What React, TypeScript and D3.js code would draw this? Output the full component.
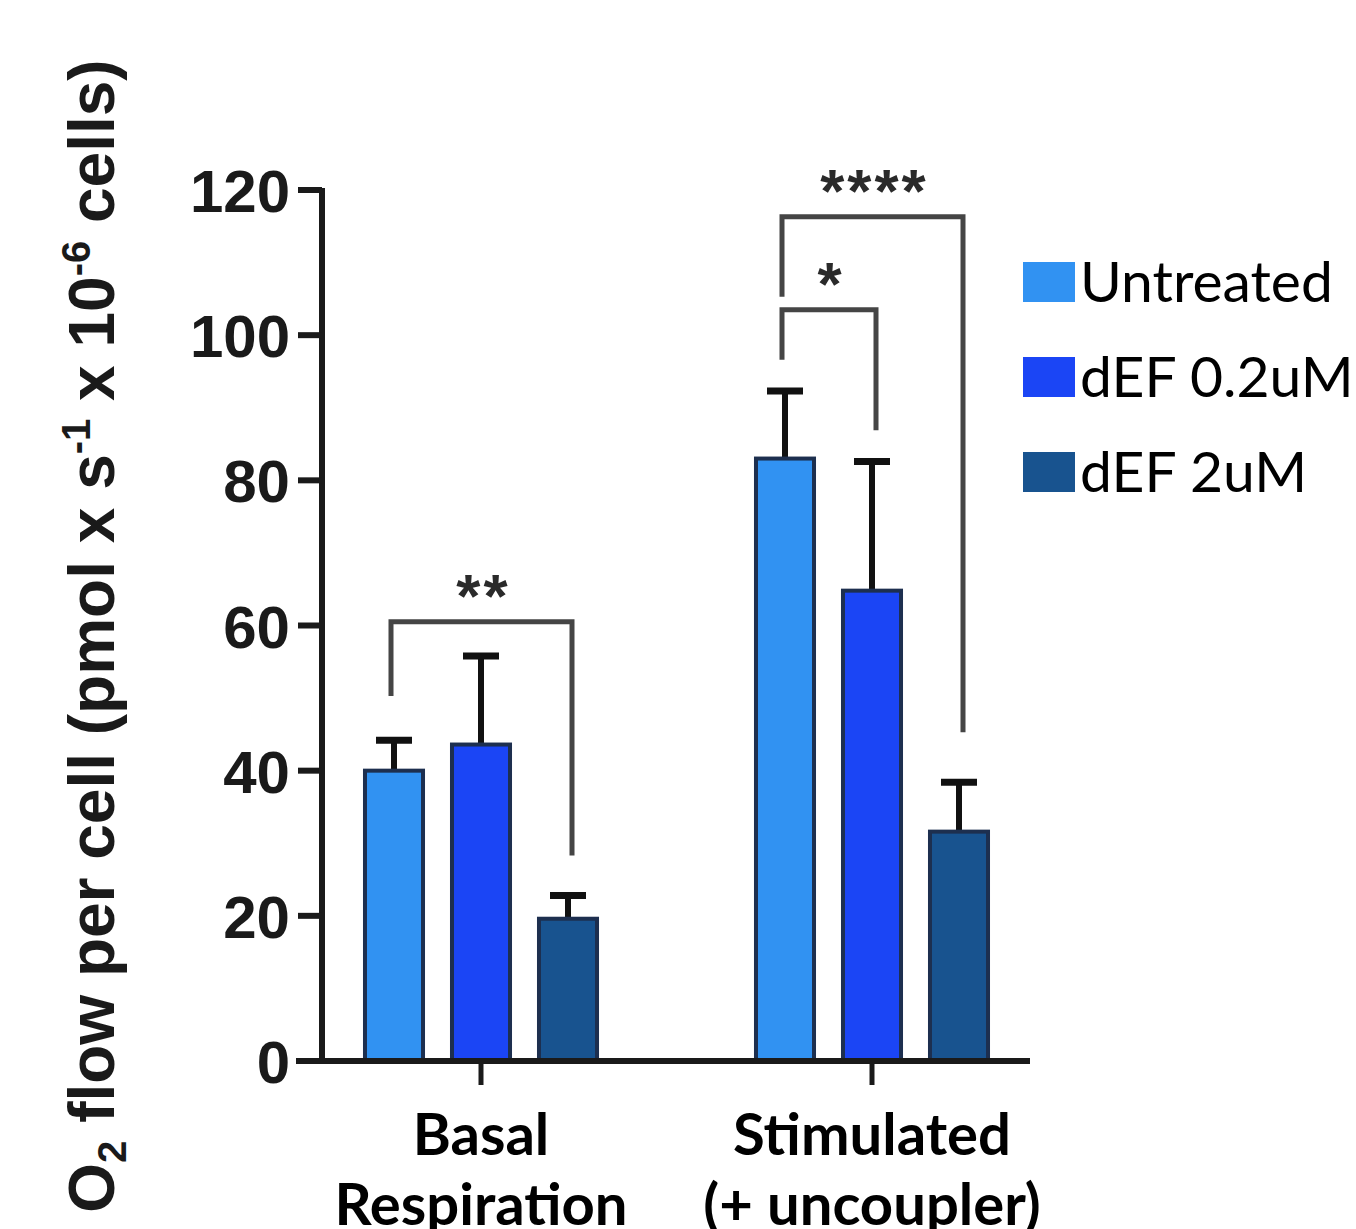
import React, { useEffect, useRef } from 'react';
import * as d3 from 'd3';

// groups on the x axis (two text lines each)
const categories = ['Basal Respiration', 'Stimulated (+ uncoupler)'];
const categoryLines = [['Basal', 'Respiration'], ['Stimulated', '(+ uncoupler)']];
const seriesNames = ['Untreated', 'dEF 0.2uM', 'dEF 2uM'];
const seriesColors = ['#3192f2', '#1b45f5', '#18538f'];

// mean values and upper error (mean + SD), per category, per series
const untreatedMean = [40, 83];
const untreatedErr = [44.2, 92.3];
const def02Mean = [43.6, 64.8];
const def02Err = [55.8, 82.6];
const def2Mean = [19.6, 31.6];
const def2Err = [22.8, 38.4];

const yTicks = [0, 20, 40, 60, 80, 100, 120];

// significance brackets: category, from series, to series, bracket level, leg ends, label
const sigCategory = [0, 1, 1];
const sigFrom = [0, 0, 0];
const sigTo = [2, 1, 2];
const sigLevel = [60.5, 103.5, 116.3];
const sigLeftEnd = [50.3, 96.6, 105.3];
const sigRightEnd = [28.3, 86.9, 45.3];
const sigLabel = ['**', '*', '****'];

const W = 1356;
const H = 1229;

export default function App() {
  const ref = useRef<SVGSVGElement>(null);

  useEffect(() => {
    const svg = d3.select(ref.current);
    svg.selectAll('*').remove();

    const y = d3.scaleLinear().domain([0, 120]).range([1061, 190]);
    const x0 = d3.scalePoint().domain(categories).range([481, 872]);
    const x1 = d3.scaleBand().domain(seriesNames).range([-130.5, 130.5]).paddingInner(0.333).paddingOuter(0.1665);

    const means = [untreatedMean, def02Mean, def2Mean];
    const errs = [untreatedErr, def02Err, def2Err];

    const rows: any[] = [];
    categories.forEach((c, ci) => {
      seriesNames.forEach((s, si) => {
        rows.push({ c, ci, s, si, v: means[si][ci], e: errs[si][ci] });
      });
    });

    const cx = (d: any) => x0(d.c)! + x1(d.s)! + x1.bandwidth() / 2;

    const g = svg.append('g');

    // error bars (drawn first so the bars cover their base)
    g.selectAll('.err')
      .data(rows)
      .join('line')
      .attr('x1', cx)
      .attr('x2', cx)
      .attr('y1', (d) => y(d.v))
      .attr('y2', (d) => y(d.e))
      .attr('stroke', '#111')
      .attr('stroke-width', 6);
    g.selectAll('.cap')
      .data(rows)
      .join('line')
      .attr('x1', (d) => cx(d) - 18)
      .attr('x2', (d) => cx(d) + 18)
      .attr('y1', (d) => y(d.e))
      .attr('y2', (d) => y(d.e))
      .attr('stroke', '#111')
      .attr('stroke-width', 7);

    // bars
    g.selectAll('.bar')
      .data(rows)
      .join('rect')
      .attr('x', (d) => x0(d.c)! + x1(d.s)!)
      .attr('y', (d) => y(d.v))
      .attr('width', x1.bandwidth())
      .attr('height', (d) => y(0) - y(d.v))
      .attr('fill', (d) => seriesColors[d.si])
      .attr('stroke', '#1d2f4f')
      .attr('stroke-width', 4);

    // axes
    const axisColor = '#1a1a1a';
    g.append('line').attr('x1', 322).attr('x2', 322).attr('y1', y(120) - 2).attr('y2', y(0)).attr('stroke', axisColor).attr('stroke-width', 6);
    g.append('line').attr('x1', 296).attr('x2', 1030).attr('y1', y(0)).attr('y2', y(0)).attr('stroke', axisColor).attr('stroke-width', 6);

    g.selectAll('.ytick')
      .data(yTicks)
      .join('line')
      .attr('x1', 298)
      .attr('x2', 322)
      .attr('y1', (d) => y(d))
      .attr('y2', (d) => y(d))
      .attr('stroke', axisColor)
      .attr('stroke-width', 6);
    g.selectAll('.ylab')
      .data(yTicks)
      .join('text')
      .attr('x', 290)
      .attr('y', (d) => y(d) + 22)
      .attr('text-anchor', 'end')
      .attr('font-family', 'Liberation Sans, Arial, sans-serif')
      .attr('font-weight', 'bold')
      .attr('font-size', 60)
      .attr('fill', '#1a1a1a')
      .text((d) => d);

    g.selectAll('.xtick')
      .data(categories)
      .join('line')
      .attr('x1', (d) => x0(d)!)
      .attr('x2', (d) => x0(d)!)
      .attr('y1', y(0))
      .attr('y2', y(0) + 24)
      .attr('stroke', axisColor)
      .attr('stroke-width', 5);

    categories.forEach((c, ci) => {
      const t = g.append('text')
        .attr('text-anchor', 'middle')
        .attr('font-family', 'Lato, sans-serif')
        .attr('font-weight', 'bold')
        .attr('font-size', 58)
        .attr('fill', '#000');
      categoryLines[ci].forEach((line, li) => {
        t.append('tspan').attr('x', x0(c)!).attr('y', 1155 + li * 70).text(line);
      });
    });

    // y axis title
    const title = g.append('text')
      .attr('transform', `translate(114, 636) rotate(-90)`)
      .attr('text-anchor', 'middle')
      .attr('font-family', 'Liberation Sans, Arial, sans-serif')
      .attr('font-weight', 'bold')
      .attr('font-size', 64)
      .attr('fill', '#1a1a1a');
    title.append('tspan').text('O');
    title.append('tspan').attr('font-size', 40).attr('dy', 12).text('2');
    title.append('tspan').attr('dy', -12).text(' flow per cell (pmol x s');
    title.append('tspan').attr('font-size', 40).attr('dy', -24).text('-1');
    title.append('tspan').attr('dy', 24).text(' x 10');
    title.append('tspan').attr('font-size', 40).attr('dy', -24).text('-6');
    title.append('tspan').attr('dy', 24).text(' cells)');

    // significance brackets
    sigLabel.forEach((lab, i) => {
      const c = categories[sigCategory[i]];
      const xa = x0(c)! + x1(seriesNames[sigFrom[i]])! + x1.bandwidth() / 2 - 3;
      const xb = x0(c)! + x1(seriesNames[sigTo[i]])! + x1.bandwidth() / 2 + 4;
      const path = d3.path();
      path.moveTo(xa, y(sigLeftEnd[i]));
      path.lineTo(xa, y(sigLevel[i]));
      path.lineTo(xb, y(sigLevel[i]));
      path.lineTo(xb, y(sigRightEnd[i]));
      g.append('path')
        .attr('d', path.toString())
        .attr('fill', 'none')
        .attr('stroke', '#454545')
        .attr('stroke-width', 5);
      g.append('text')
        .attr('x', (xa + xb) / 2 + 2)
        .attr('y', y(sigLevel[i]) - 40 + 35)
        .attr('text-anchor', 'middle')
        .attr('font-family', 'Liberation Sans, Arial, sans-serif')
        .attr('font-weight', 'bold')
        .attr('font-size', 62)
        .attr('letter-spacing', 3)
        .attr('fill', '#2a2a2a')
        .text(lab);
    });

    // legend
    const leg = g.selectAll('.leg')
      .data(seriesNames)
      .join('g')
      .attr('transform', (d, i) => `translate(1023, ${302 + i * 95})`);
    leg.append('rect')
      .attr('x', 0)
      .attr('y', -40)
      .attr('width', 52)
      .attr('height', 40)
      .attr('fill', (d, i) => seriesColors[i]);
    leg.append('text')
      .attr('x', 57)
      .attr('y', 0)
      .attr('font-family', 'Lato, sans-serif')
      .attr('font-size', 57)
      .attr('fill', '#000')
      .text((d) => d);
  }, []);

  return (
    <svg ref={ref} width={W} height={H} style={{ position: 'absolute', left: 0, top: 0, background: '#fff' }} />
  );
}
